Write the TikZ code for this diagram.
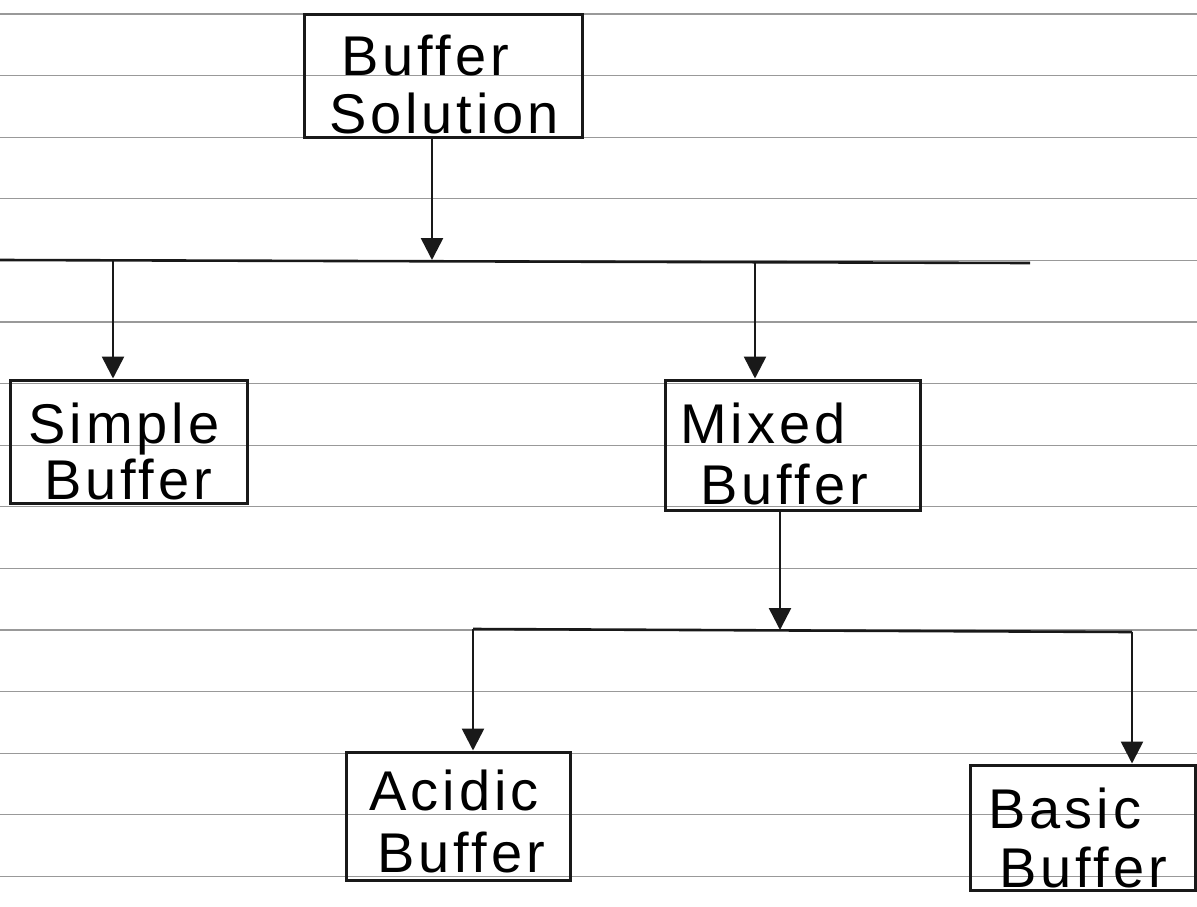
\documentclass[tikz,border=0pt]{standalone}
\usepackage{fontspec}
\setmainfont{Liberation Sans}[LetterSpace=7]
\usetikzlibrary{arrows.meta}
\tikzset{
  box/.style={draw=black!90, line width=3pt, minimum width=#1, inner sep=0pt},
  txt/.style={anchor=base, inner sep=0pt, font=\fontsize{56}{60}\selectfont},
  conn/.style={draw=black!90, line width=2.6pt},
  arr/.style={conn, -{Triangle[width=22pt,length=22pt]}},
  rule/.style={draw=black!40, line width=1.1pt}
}
\begin{document}
\begin{tikzpicture}[x=1pt,y=-1pt]
\useasboundingbox (0,0) rectangle (1197,906);
\fill[white] (0,0) rectangle (1197,906);
% ruled paper lines
\foreach \k in {0,...,14}{
  \draw[rule] (0,{14+61.6*\k}) -- (1197,{14+61.6*\k});
}
% boxes
\node[box=278pt, minimum height=123pt] (top) at (443,75.5) {};
\node[box=237pt, minimum height=123pt] (simple) at (128.5,441.5) {};
\node[box=255pt, minimum height=130pt] (mixed) at (792.5,445) {};
\node[box=224pt, minimum height=128pt] (acidic) at (458,816) {};
\node[box=225pt, minimum height=125pt] (basic) at (1082.5,827.5) {};
% texts
\node[txt] (topA) at (425,75) {Buffer};
\node[txt] (topB) at (444,133) {Solution};
\node[txt] (simpleA) at (124,443) {Simple};
\node[txt] (simpleB) at (128,499) {Buffer};
\node[txt] (mixedA) at (763,443) {Mixed};
\node[txt] (mixedB) at (784,504) {Buffer};
\node[txt] (acidicA) at (454,810) {Acidic};
\node[txt] (acidicB) at (461,872) {Buffer};
\node[txt] (basicA) at (1065,828) {Basic};
\node[txt] (basicB) at (1083,887) {Buffer};
% bus lines
\coordinate (b1L) at (0,260);
\coordinate (b1R) at (1030,263);
\draw[conn] (b1L) -- (b1R);
\coordinate (b1a) at (432,260);
\coordinate (b1s) at (113,260);
\coordinate (b1m) at (755,262);
\draw[arr] (top.south -| b1a) -- (b1a);
\draw[arr] (b1s) -- (b1s |- simple.north);
\draw[arr] (b1m) -- (b1m |- mixed.north);
\coordinate (b2L) at (473,629);
\coordinate (b2R) at (1132,632);
\coordinate (b2a) at (780,630);
\draw[conn] (b2L) -- (b2R);
\draw[arr] (b2a |- mixed.south) -- (b2a);
\draw[arr] (b2L) -- (b2L |- acidic.north);
\draw[arr] (b2R) -- (b2R |- basic.north);
\end{tikzpicture}
\end{document}
